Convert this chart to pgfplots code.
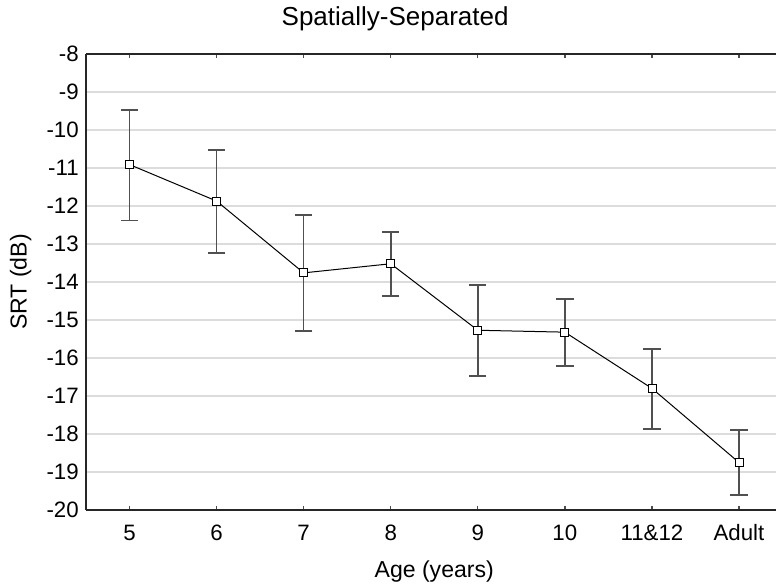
\documentclass[border=0pt]{standalone}
\usepackage{fontspec}
\setmainfont{Liberation Sans}
\usepackage{pgfplots}
\usepackage{pgfplotstable}
\pgfplotsset{compat=1.18}

\definecolor{errgray}{HTML}{505050}
\definecolor{gridgray}{HTML}{DCDCDC}

% age group index, mean SRT, error up, error down
\pgfplotstableread{
x  y       ep    em
0  -10.91  1.44  1.47
1  -11.87  1.34  1.36
2  -13.76  1.52  1.53
3  -13.52  0.84  0.85
4  -15.27  1.19  1.20
5  -15.32  0.88  0.89
6  -16.80  1.04  1.07
7  -18.75  0.86  0.86
}\srtdata

\begin{document}
\begin{tikzpicture}
\begin{axis}[
    scale only axis,
    width=517.5pt, height=342pt,
    xmin=-0.5, xmax=7.425,
    ymin=-20, ymax=-8,
    axis x line=box, axis y line=left,
    axis line style={-, line width=1pt, black!85},
    xtick={0,...,7},
    xticklabels={5,6,7,8,9,10,11\&12,Adult},
    ytick={-20,-19,...,-8},
    tick align=inside,
    major tick length=3pt,
    xtick style={line width=1pt, black!70},
    ytick style={draw=none},
    ymajorgrids,
    major grid style={gridgray, line width=1pt},
    /pgf/number format/assume math mode=true,
    tick label style={font=\fontsize{16.7}{20}\selectfont},
    yticklabel style={anchor=east, xshift=-1.9pt},
    xticklabel style={anchor=base, yshift=-23.25pt},
    xlabel={Age (years)},
    ylabel={SRT (dB)},
    title={Spatially-Separated},
    label style={font=\fontsize{17.3}{20}\selectfont},
    xlabel style={at={(axis description cs:0.5047,-0.149)}, anchor=base},
    ylabel style={at={(axis description cs:-0.0862,0.5)}, anchor=base},
    title style={font=\fontsize{19.5}{23}\selectfont, at={(axis description cs:0.448,1.046)}, anchor=base},
]
\addplot[black, line width=0.75pt, mark=square*, mark size=3pt,
    mark options={fill=white, line width=0.6pt},
    error bars/.cd, y dir=both, y explicit,
    error bar style={errgray, line width=1.2pt},
    error mark options={errgray, line width=1.2pt, mark size=6.5pt, rotate=90}]
    table[x=x, y=y, y error plus=ep, y error minus=em] {\srtdata};
\coordinate (sw) at (rel axis cs:0,0);
\coordinate (ne) at (rel axis cs:1,1);
\end{axis}
\pgfresetboundingbox
\path ([shift={(-64.5pt,-58.5pt)}]sw) rectangle ([shift={(0pt,40.5pt)}]ne);
\end{tikzpicture}
\end{document}
